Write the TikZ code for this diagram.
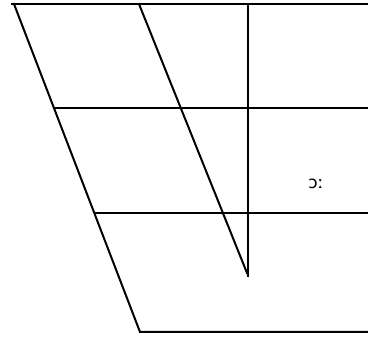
\documentclass[tikz,border=0pt]{standalone}
\usepackage{fontspec}
\newfontfamily\ipafont{DejaVu Sans}
\begin{document}
\begin{tikzpicture}[x=1pt,y=-1pt,
  chartline/.style={line width=2pt,line cap=rect},
  vowel/.style={font=\ipafont\fontsize{17}{17}\selectfont,inner sep=0pt}]
\useasboundingbox (0,0) rectangle (368,337);
\coordinate (tl) at (14,4);
\coordinate (tr) at (368,4);
\coordinate (bl) at (140,332);
\coordinate (br) at (368,332);
\coordinate (ct) at (139,4);
\coordinate (cb) at (247,273);
\coordinate (vt) at (248,4);
\coordinate (vb) at (248,276);
\coordinate (m1l) at (55,108);
\coordinate (m1r) at (368,108);
\coordinate (m2l) at (95,213);
\coordinate (m2r) at (368,213);
\draw[chartline,line width=2.5pt] (12,4) -- (tr);
\draw[chartline] (tl) -- (bl) -- (br);
\draw[chartline] (ct) -- (cb);
\draw[chartline] (vt) -- (vb);
\draw[chartline] (m1l) -- (m1r);
\draw[chartline] (m2l) -- (m2r);
\node[vowel] (oo) at (316,184) {ɔː};
\end{tikzpicture}
\end{document}
